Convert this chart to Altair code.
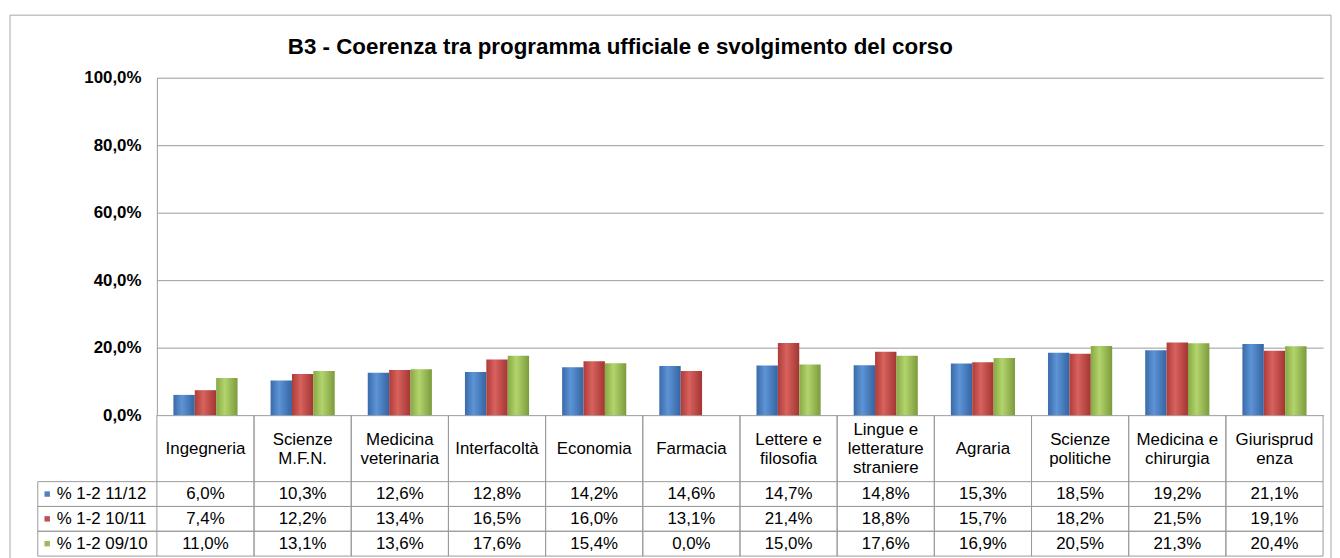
import altair as alt
import pandas as pd

# ---- data ----
categories = ["Ingegneria", "Scienze M.F.N.", "Medicina veterinaria", "Interfacoltà",
              "Economia", "Farmacia", "Lettere e filosofia", "Lingue e letterature straniere",
              "Agraria", "Scienze politiche", "Medicina e chirurgia", "Giurisprudenza"]
header_labels = ["Ingegneria", "Scienze\nM.F.N.", "Medicina\nveterinaria", "Interfacoltà",
                 "Economia", "Farmacia", "Lettere e\nfilosofia", "Lingue e\nletterature\nstraniere",
                 "Agraria", "Scienze\npolitiche", "Medicina e\nchirurgia", "Giurisprud\nenza"]
series = ["% 1-2 11/12", "% 1-2 10/11", "% 1-2 09/10"]
v_1112 = [6.0, 10.3, 12.6, 12.8, 14.2, 14.6, 14.7, 14.8, 15.3, 18.5, 19.2, 21.1]
v_1011 = [7.4, 12.2, 13.4, 16.5, 16.0, 13.1, 21.4, 18.8, 15.7, 18.2, 21.5, 19.1]
v_0910 = [11.0, 13.1, 13.6, 17.6, 15.4, 0.0, 15.0, 17.6, 16.9, 20.5, 21.3, 20.4]
y_ticks = [0.0, 0.2, 0.4, 0.6, 0.8, 1.0]
title_text = "B3 - Coerenza tra programma ufficiale e svolgimento del corso"

# ---- tables built from the arrays ----
rows = []
for s, vals in zip(series, [v_1112, v_1011, v_0910]):
    for c, v in zip(categories, vals):
        rows.append({"category": c, "series": s, "value": v / 100.0,
                     "label": f"{v:.1f}%".replace(".", ",")})
df = pd.DataFrame(rows)
df_h = pd.DataFrame({"category": categories, "label": header_labels,
                     "nlines": [len(l.split("\n")) for l in header_labels]})
df_s = pd.DataFrame({"series": series})
one = pd.DataFrame({"k": [0]})

FONT = "Liberation Sans"
GRID = "#9a9a9a"
W, H = 1175, 340
HEAD_H, DATA_H = 67, 75
LH = 19
COLORS = ["#4F81BD", "#C0504D", "#9BBB59"]

grads = [
    ["#3a6aa8", "#5d94d6", "#3464a2"],
    ["#ad3c39", "#d8625e", "#a23532"],
    ["#86a944", "#b3d46c", "#7c9b3d"],
]


def gradient(cols):
    return alt.Gradient(
        gradient="linear", x1=0, x2=1, y1=0, y2=0,
        stops=[alt.GradientStop(offset=0, color=cols[0]),
               alt.GradientStop(offset=0.4, color=cols[1]),
               alt.GradientStop(offset=1, color=cols[2])])


x_bar = alt.X("category:N", sort=categories,
              scale=alt.Scale(domain=categories, paddingInner=0.34, paddingOuter=0.17),
              axis=None)
y_axis = alt.Axis(values=y_ticks,
                  labelExpr="replace(format(datum.value, '.1%'), '.', ',')",
                  labelFont=FONT, labelFontSize=17, labelFontWeight="bold",
                  labelColor="black", labelPadding=16, ticks=False,
                  domain=True, domainColor=GRID, grid=True, gridColor=GRID,
                  title=None)

bar_layers = []
for s, g in zip(series, grads):
    bar_layers.append(
        alt.Chart(df).transform_filter(alt.datum.series == s)
        .mark_bar(color=gradient(g))
        .encode(
            x=x_bar,
            xOffset=alt.XOffset("series:N", scale=alt.Scale(domain=series, paddingInner=0, paddingOuter=0)),
            y=alt.Y("value:Q", scale=alt.Scale(domain=[0, 1], nice=False), axis=y_axis),
        )
    )

border = alt.Chart(one).mark_rect(fillOpacity=0, stroke="#a6a6a6", strokeWidth=1).encode(
    x=alt.value(-148), x2=alt.value(W + 8), y=alt.value(-63), y2=alt.value(520))
title = alt.Chart(one).mark_text(text=title_text, font=FONT, fontSize=22.5, fontWeight="bold",
                                 align="center", baseline="alphabetic", color="black").encode(
    x=alt.value(467), y=alt.value(-24))

p1 = alt.layer(border, title, *bar_layers).properties(width=W, height=H)

# ---- header row ----
def x_tab(bp=None):
    kw = {} if bp is None else {"bandPosition": bp}
    return alt.X("category:N", sort=categories,
                 scale=alt.Scale(domain=categories, paddingInner=0, paddingOuter=0),
                 axis=None, **kw)


head_texts = []
for n in [1, 2, 3]:
    head_texts.append(
        alt.Chart(df_h).transform_filter(alt.datum.nlines == n)
        .mark_text(font=FONT, fontSize=17, lineHeight=LH, lineBreak="\n",
                   align="center", baseline="middle", color="black")
        .encode(x=x_tab(), y=alt.value(HEAD_H / 2 + 1 - (n - 1) * LH / 2), text="label:N"))
head_v0 = alt.Chart(df_h).mark_rule(color=GRID).encode(x=x_tab(0), y=alt.value(0), y2=alt.value(HEAD_H))
head_v1 = alt.Chart(df_h).mark_rule(color=GRID).encode(x=x_tab(1), y=alt.value(0), y2=alt.value(HEAD_H))
p2 = alt.layer(head_v0, head_v1, *head_texts).properties(width=W, height=HEAD_H)

# ---- data rows ----
def y_tab(bp=None):
    kw = {} if bp is None else {"bandPosition": bp}
    return alt.Y("series:N", sort=series,
                 scale=alt.Scale(domain=series, paddingInner=0, paddingOuter=0),
                 axis=None, **kw)


data_text = alt.Chart(df).mark_text(font=FONT, fontSize=17, align="center", baseline="middle",
                                    color="black").encode(x=x_tab(), y=y_tab(), text="label:N")
h0 = alt.Chart(df_s).mark_rule(color=GRID).encode(y=y_tab(0), x=alt.value(-120), x2=alt.value(W))
h1 = alt.Chart(df_s).mark_rule(color=GRID).encode(y=y_tab(1), x=alt.value(-120), x2=alt.value(W))
v0 = alt.Chart(df_h).mark_rule(color=GRID).encode(x=x_tab(0), y=alt.value(0), y2=alt.value(DATA_H))
v1 = alt.Chart(df_h).mark_rule(color=GRID).encode(x=x_tab(1), y=alt.value(0), y2=alt.value(DATA_H))
vl = alt.Chart(one).mark_rule(color=GRID).encode(x=alt.value(-120), y=alt.value(0), y2=alt.value(DATA_H))
row_text = alt.Chart(df_s).mark_text(font=FONT, fontSize=17, align="left", baseline="middle",
                                     color="black").encode(x=alt.value(-101), y=y_tab(), text="series:N")
squares = alt.Chart(df_s).mark_point(shape="square", filled=True, size=30, opacity=1).encode(
    x=alt.value(-110.5), y=y_tab(),
    color=alt.Color("series:N", scale=alt.Scale(domain=series, range=COLORS), legend=None))
p3 = alt.layer(h0, h1, v0, v1, vl, data_text, row_text, squares).properties(width=W, height=DATA_H)

chart = (alt.vconcat(p1, p2, p3, spacing=0, bounds="flush")
         .resolve_scale(x="independent", y="independent")
         .properties(padding={"left": 1, "top": 4, "right": 0, "bottom": 0})
         .configure(font=FONT)
         .configure_view(stroke=None))

chart.save("out.html", embed_options={"renderer": "svg", "actions": False})
